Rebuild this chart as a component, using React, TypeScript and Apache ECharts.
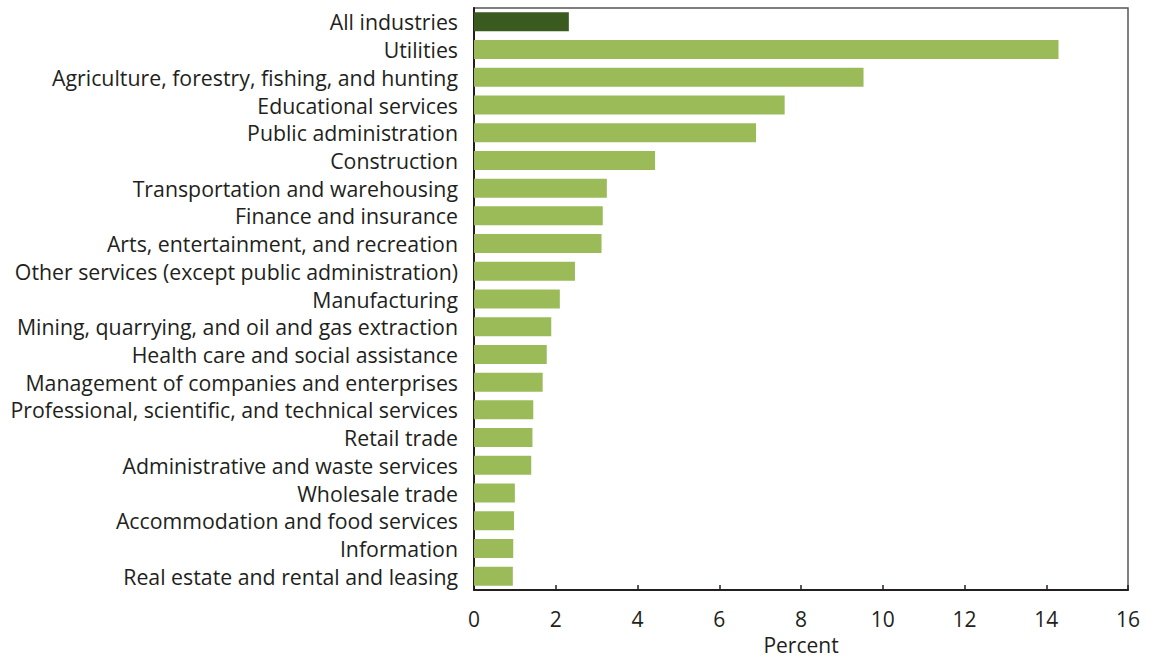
import React, { useEffect, useRef } from "react";
import * as echarts from "echarts";

const categories = [
  "All industries",
  "Utilities",
  "Agriculture, forestry, fishing, and hunting",
  "Educational services",
  "Public administration",
  "Construction",
  "Transportation and warehousing",
  "Finance and insurance",
  "Arts, entertainment, and recreation",
  "Other services (except public administration)",
  "Manufacturing",
  "Mining, quarrying, and oil and gas extraction",
  "Health care and social assistance",
  "Management of companies and enterprises",
  "Professional, scientific, and technical services",
  "Retail trade",
  "Administrative and waste services",
  "Wholesale trade",
  "Accommodation and food services",
  "Information",
  "Real estate and rental and leasing",
];

const values = [
  2.32, 14.3, 9.53, 7.6, 6.9, 4.43, 3.25, 3.15, 3.12, 2.47, 2.1, 1.89, 1.78,
  1.68, 1.45, 1.43, 1.4, 1.0, 0.98, 0.96, 0.95,
];

const xTicks = [0, 2, 4, 6, 8, 10, 12, 14, 16];

const FONT = "'Open Sans'";
const TEXT = "#231f20";

export default function App() {
  const ref = useRef<HTMLDivElement>(null);
  useEffect(() => {
    if (!ref.current) return;
    const chart = echarts.init(ref.current, null, { renderer: "svg" });
    chart.setOption({
      animation: false,
      backgroundColor: "#ffffff",
      grid: {
        left: 474,
        right: 22,
        top: 8,
        bottom: 67,
        show: true,
        borderColor: "#555",
        borderWidth: 1.5,
        containLabel: false,
      },
      xAxis: {
        type: "value",
        min: xTicks[0],
        max: xTicks[xTicks.length - 1],
        interval: 2,
        name: "Percent",
        nameLocation: "middle",
        nameGap: 44,
        nameTextStyle: { fontFamily: FONT, fontSize: 21, color: TEXT },
        axisLine: { show: true, lineStyle: { color: "#231f20", width: 2 } },
        axisTick: { show: true, inside: true, length: 5, lineStyle: { color: "#231f20", width: 1.5 } },
        axisLabel: { fontFamily: FONT, fontSize: 21, color: TEXT, margin: 18 },
        splitLine: { show: false },
      },
      yAxis: {
        type: "category",
        data: categories,
        inverse: true,
        axisLine: { show: true, lineStyle: { color: "#231f20", width: 2 } },
        axisTick: { show: false },
        axisLabel: { fontFamily: FONT, fontSize: 21.3, color: TEXT, margin: 16, interval: 0 },
        splitLine: { show: false },
      },
      series: [
        {
          type: "bar",
          barWidth: 19,
          data: values.map((v, i) => ({
            value: v,
            itemStyle: { color: i === 0 ? "#3a5a1f" : "#9bbb59" },
          })),
        },
      ],
    });
    return () => chart.dispose();
  }, []);
  return (
    <div
      ref={ref}
      style={{ position: "fixed", left: 0, top: 0, width: 1150, height: 660 }}
    />
  );
}
